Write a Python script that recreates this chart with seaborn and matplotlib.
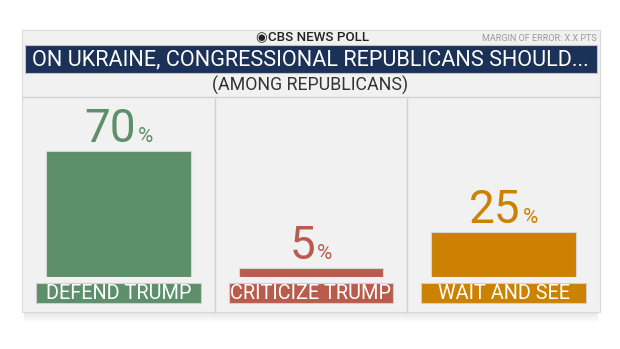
import matplotlib
matplotlib.use('Agg')
import matplotlib.pyplot as plt
import seaborn as sns
from matplotlib.patches import Rectangle
from matplotlib.lines import Line2D

# ---- data ----
categories = ['DEFEND TRUMP', 'CRITICIZE TRUMP', 'WAIT AND SEE']
values = [70, 5, 25]
value_labels = ['70', '5', '25']
colors = ['#5e8f6b', '#b95c4d', '#cc8100']
title = 'ON UKRAINE, CONGRESSIONAL REPUBLICANS SHOULD...'
subtitle = '(AMONG REPUBLICANS)'
brand = 'CBS NEWS POLL'
moe = 'MARGIN OF ERROR: X.X PTS'

sns.set_theme(style='white')
plt.rcParams['font.family'] = ['Roboto', 'DejaVu Sans']

W, H = 620, 349
fig = plt.figure(figsize=(6.2, 3.49), dpi=100)
fig.patch.set_facecolor('white')


def fx(x):
    return x / W


def fy(y):
    return 1 - y / H


def prect(x0, y0, x1, y1, **kw):
    r = Rectangle((fx(x0), fy(y1)), (x1 - x0) / W, (y1 - y0) / H,
                  transform=fig.transFigure, **kw)
    fig.add_artist(r)
    return r


# panel shadow
for k, a in enumerate([0.10, 0.07, 0.05, 0.035, 0.02]):
    prect(24, 312 + 2 * k, 598, 314 + 2 * k, facecolor='black', alpha=a, lw=0, zorder=-3)
# panel
prect(22, 30, 600, 312, facecolor='#f1f1f1', edgecolor='#dadada', lw=0.8, zorder=-2)
# banner
prect(25, 45, 597, 73, facecolor='#1b3157', edgecolor='#bfc4cc', lw=0.8, zorder=-1)
# separators
fig.add_artist(Line2D([fx(22), fx(600)], [fy(97), fy(97)], transform=fig.transFigure,
                      color='#d2d2d2', lw=1, zorder=-1))
for xd in (214.7, 407.3):
    fig.add_artist(Line2D([fx(xd), fx(xd)], [fy(97), fy(312)], transform=fig.transFigure,
                          color='#d2d2d2', lw=1, zorder=-1))

# header texts
fig.text(fx(267), fy(37.5), '\u25c9', family='DejaVu Sans', fontsize=9.5, color='#222222',
         ha='right', va='center')
fig.text(fx(267.5), fy(37.5), brand, fontsize=9.6, fontweight='medium', color='#222222',
         ha='left', va='center')
fig.text(fx(597), fy(38.5), moe, fontsize=6.5, color='#9a9a9a', ha='right', va='center')
fig.text(fx(310), fy(60), title, fontsize=15.6, color='white', ha='center', va='center')
fig.text(fx(310), fy(85), subtitle, fontsize=12.8, color='#333333', ha='center', va='center')

# bars
ax = fig.add_axes([22 / W, 72 / H, 578 / W, 180 / H])
ax.patch.set_visible(False)
sns.barplot(x=categories, y=values, hue=categories, palette=colors, legend=False,
            width=0.75, saturation=1, edgecolor='#d6d6d6', linewidth=0.8, ax=ax)
ax.set_xlim(-0.5, 2.5)
ax.set_ylim(0, 100)
ax.set_axis_off()

# category label boxes
for i, (cat, col) in enumerate(zip(categories, colors)):
    ax.add_patch(Rectangle((i - 0.428, -14.7), 0.856, 11.4, facecolor=col,
                           edgecolor='#cfcfcf', lw=0.8, clip_on=False))
    ax.text(i, -8.9, cat, fontsize=14.3, color='white',
            ha='center', va='center', clip_on=False)

# value labels
renderer = fig.canvas.get_renderer()
dpp = 3.0 / 578.0
for i, (v, lbl, col) in enumerate(zip(values, value_labels, colors)):
    t1 = ax.text(i, v + 5, lbl, fontsize=33, color=col,
                 ha='left', va='baseline')
    t2 = ax.text(i, v + 5, '%', fontsize=15, color=col,
                 ha='left', va='baseline')
    w1 = t1.get_window_extent(renderer).width
    w2 = t2.get_window_extent(renderer).width
    gap = 2
    tot = w1 + gap + w2
    x0 = i - tot / 2 * dpp
    t1.set_x(x0)
    t2.set_x(x0 + (w1 + gap) * dpp)

fig.savefig('out.png', dpi=100)
